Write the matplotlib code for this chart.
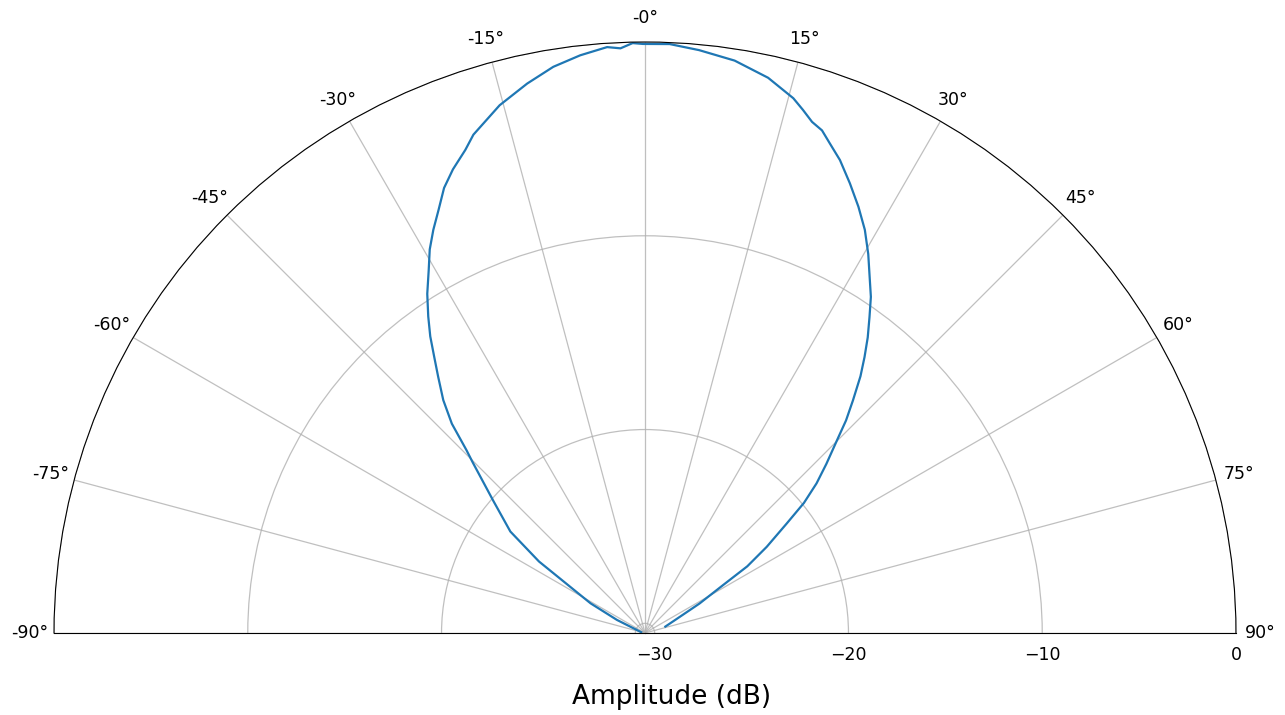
import numpy as np
import matplotlib
matplotlib.use("Agg")
import matplotlib.pyplot as plt

# Angle (deg, clockwise from broadside) and amplitude (dB)
angles_deg = [-78, -65, -61.4, -56, -53, -48.9, -45.3, -44.3, -42.7, -40.9, -38.9,
              -37.4, -35.9, -34.4, -32.7, -30.8, -29.3, -27.7, -26.0, -24.3, -22.5,
              -20.4, -19.0, -15.4, -12.1, -9.2, -6.4, -3.7, -2.4, -1.2, -0.2,
              2.4, 5.3, 8.9, 12.5, 15.5, 16.8, 18.1, 19.4, 20.7, 22.4, 24.5, 26.6,
              28.6, 30.5, 32.3, 33.9, 35.4, 37.0, 38.5, 40.0, 41.8, 43.4, 44.8,
              47.0, 48.9, 50.7, 52.3, 54.7, 56.9, 58.5, 61.6, 65.0, 72.5]
amplitude_db = [-30.3, -28.9, -27.3, -23.9, -21.8, -20.1, -18.0, -17.3, -15.8, -14.6, -13.5,
                -12.6, -11.6, -10.7, -9.7, -8.7, -7.8, -7.0, -6.2, -5.3, -4.6,
                -3.9, -3.3, -2.25, -1.5, -0.9, -0.5, -0.2, -0.3, -0.05, -0.1,
                -0.08, -0.29, -0.6, -1.15, -1.86, -2.3, -2.75, -3.0, -3.5, -4.1, -5.0, -5.9,
                -6.8, -7.8, -8.8, -9.6, -10.5, -11.4, -12.3, -13.2, -14.4, -15.4, -16.4,
                -17.7, -18.75, -19.9, -21.25, -22.8, -24.2, -25.8, -27.3, -28.5, -29.4]

theta_ticks = list(range(-90, 91, 15))
theta_labels = ["-90°", "-75°", "-60°", "-45°", "-30°", "-15°", "-0°",
                "15°", "30°", "45°", "60°", "75°", "90°"]
r_ticks = [-30, -20, -10, 0]

W, H = 1285, 715
fig = plt.figure(figsize=(W / 100, H / 100), dpi=100)
cx, cy, R = 645, 633, 591           # centre (px from top-left) and radius
box_w, box_h = 2 * R, 2 * R
wedge_cy_from_bottom = (H - cy) + R / 2
left = (cx - R) / W
bottom = (wedge_cy_from_bottom - box_h / 2) / H
ax = fig.add_axes([left, bottom, box_w / W, box_h / H], projection="polar")
ax.set_theta_zero_location("N")
ax.set_theta_direction(-1)
ax.set_thetamin(-90)
ax.set_thetamax(90)
ax.set_ylim(-30.5, 0)

ax.plot(np.deg2rad(angles_deg), amplitude_db, color="#1f77b4", lw=1.6)

ax.set_thetagrids(theta_ticks, labels=theta_labels)
ax.tick_params(axis="x", labelsize=12.5, pad=7)
ax.set_rticks(r_ticks)
ax.tick_params(axis="y", labelsize=12.5, labelleft=False, labelright=True, pad=6)
ax.grid(True, color="#b0b0b0", lw=0.9, alpha=0.8)

fig.text(0.523, (H - 697) / H, "Amplitude (dB)", ha="center", va="center", fontsize=19)

fig.savefig("out.png", dpi=100)
